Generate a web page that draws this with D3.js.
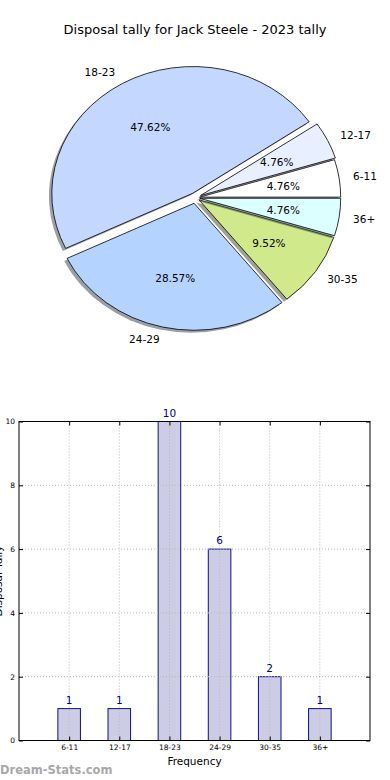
<!DOCTYPE html>
<html>
<head>
<meta charset="utf-8">
<script src="https://cdn.jsdelivr.net/npm/d3@7"></script>
<style>
  body { margin: 0; background: #fff; }
  svg { display: block; font-family: "DejaVu Sans", sans-serif; }
  .grid line { stroke: #b8b8b8; stroke-dasharray: 1,2; }
</style>
</head>
<body>
<div id="chart"></div>
<script>
/* DATA */
const ageGroups = ["6-11", "12-17", "18-23", "24-29", "30-35", "36+"];
const disposalCounts = [1, 1, 10, 6, 2, 1];
const sliceColours = ["#ffffff", "#e8f0ff", "#c4d8ff", "#b4d4ff", "#d0e98a", "#dcffff"];
const explode = [0.03, 0.04, 0.04, 0.045, 0.03, 0.03];
const yTicks = [0, 2, 4, 6, 8, 10];

const width = 390, height = 780;

const svg = d3.select("#chart").append("svg")
  .attr("width", width)
  .attr("height", height);

// title
svg.append("text")
  .attr("x", 195)
  .attr("y", 34)
  .attr("text-anchor", "middle")
  .attr("font-size", 13)
  .text("Disposal tally for Jack Steele - 2023 tally");

/* PIE (matplotlib style: elliptical, counter-clockwise from 3 o'clock) */
const pieC = { x: 195.5, y: 197.7, rx: 141, ry: 127 };
const total = d3.sum(disposalCounts);

const pie = d3.pie()
  .sort(null)
  .startAngle(Math.PI / 2)
  .endAngle(Math.PI / 2 - 2 * Math.PI);

const arcs = pie(disposalCounts);
const arc = d3.arc().innerRadius(0).outerRadius(1);

const pieG = svg.append("g")
  .attr("transform", `translate(${pieC.x},${pieC.y}) scale(${pieC.rx},${pieC.ry})`);

arcs.forEach((d, i) => {
  const mid = (d.startAngle + d.endAngle) / 2;
  const ox = explode[i] * Math.sin(mid), oy = -explode[i] * Math.cos(mid);
  const base = d3.rgb(sliceColours[i]);
  const shade = d3.rgb(base.r * 0.3, base.g * 0.3, base.b * 0.3);

  // shadow drawn just before its wedge
  pieG.append("path")
    .attr("d", arc(d))
    .attr("transform", `translate(${ox - 0.02},${oy + 0.02})`)
    .attr("fill", shade)
    .attr("fill-opacity", 0.5)
    .attr("stroke", "none");

  pieG.append("path")
    .attr("d", arc(d))
    .attr("transform", `translate(${ox},${oy})`)
    .attr("fill", sliceColours[i])
    .attr("stroke", "#000")
    .attr("stroke-width", 0.8)
    .attr("vector-effect", "non-scaling-stroke");
});

// labels and percentages
arcs.forEach((d, i) => {
  const mid = (d.startAngle + d.endAngle) / 2;
  const s = Math.sin(mid), c = Math.cos(mid);
  const lr = 1.1 + explode[i], pr = 0.6 + explode[i];

  svg.append("text")
    .attr("x", pieC.x + lr * s * pieC.rx)
    .attr("y", pieC.y - lr * c * pieC.ry)
    .attr("text-anchor", s > 0 ? "start" : "end")
    .attr("dominant-baseline", "central")
    .attr("font-size", 10.5)
    .text(ageGroups[i]);

  svg.append("text")
    .attr("x", pieC.x + pr * s * pieC.rx)
    .attr("y", pieC.y - pr * c * pieC.ry)
    .attr("text-anchor", "middle")
    .attr("dominant-baseline", "central")
    .attr("font-size", 10.5)
    .text(d3.format(".2f")(d.value / total * 100) + "%");
});

/* BAR CHART */
const plot = { left: 19, right: 370, top: 421.5, bottom: 740.5 };

const xScale = d3.scaleLinear()
  .domain([0, 7])
  .range([plot.left, plot.right]);

const yScale = d3.scaleLinear()
  .domain([0, 10])
  .range([plot.bottom, plot.top]);

const barW = xScale(0.45) - xScale(0);
const positions = ageGroups.map((g, i) => i + 1);

// bars
svg.append("g")
  .selectAll("rect")
  .data(disposalCounts)
  .join("rect")
  .attr("x", (d, i) => xScale(positions[i]) - barW / 2)
  .attr("y", d => yScale(d))
  .attr("width", barW)
  .attr("height", d => yScale(0) - yScale(d))
  .attr("fill", "#ccccE4")
  .attr("stroke", "#10108c")
  .attr("stroke-width", 1);

// grid (on top of bars)
const grid = svg.append("g").attr("class", "grid");
grid.selectAll(".gx")
  .data(positions)
  .join("line")
  .attr("x1", d => xScale(d)).attr("x2", d => xScale(d))
  .attr("y1", plot.top).attr("y2", plot.bottom);
grid.selectAll(".gy")
  .data(yTicks)
  .join("line")
  .attr("x1", plot.left).attr("x2", plot.right)
  .attr("y1", d => yScale(d)).attr("y2", d => yScale(d));

// value labels
svg.append("g")
  .selectAll("text")
  .data(disposalCounts)
  .join("text")
  .attr("x", (d, i) => xScale(positions[i]))
  .attr("y", d => yScale(d) - 5)
  .attr("text-anchor", "middle")
  .attr("font-size", 10.5)
  .attr("fill", "#00008b")
  .text(d => d);

// axes, ticks pointing inwards
const yAxis = d3.axisLeft(yScale).tickValues(yTicks).tickSizeInner(-4).tickSizeOuter(0).tickPadding(4);
const xAxis = d3.axisBottom(xScale).tickValues(positions)
  .tickFormat(d => ageGroups[d - 1]).tickSizeInner(-4).tickSizeOuter(0).tickPadding(4);

svg.append("g")
  .attr("transform", `translate(${plot.left},0)`)
  .call(yAxis)
  .call(g => g.select(".domain").remove())
  .call(g => g.selectAll("text").attr("font-size", 7.5).attr("font-family", "DejaVu Sans"));

svg.append("g")
  .attr("transform", `translate(0,${plot.bottom})`)
  .call(xAxis)
  .call(g => g.select(".domain").remove())
  .call(g => g.selectAll("text").attr("font-size", 7.5).attr("font-family", "DejaVu Sans"));

svg.append("g")
  .attr("transform", `translate(${plot.right},0)`)
  .call(d3.axisRight(yScale).tickValues(yTicks).tickSizeInner(-4).tickSizeOuter(0).tickFormat(""))
  .call(g => g.select(".domain").remove());

svg.append("g")
  .attr("transform", `translate(0,${plot.top})`)
  .call(d3.axisTop(xScale).tickValues(positions).tickSizeInner(-4).tickSizeOuter(0).tickFormat(""))
  .call(g => g.select(".domain").remove());

// frame
svg.append("rect")
  .attr("x", plot.left)
  .attr("y", plot.top)
  .attr("width", plot.right - plot.left)
  .attr("height", plot.bottom - plot.top)
  .attr("fill", "none")
  .attr("stroke", "#000")
  .attr("stroke-width", 1);

// axis titles
svg.append("text")
  .attr("x", (plot.left + plot.right) / 2)
  .attr("y", 765)
  .attr("text-anchor", "middle")
  .attr("font-size", 10.5)
  .text("Frequency");

// y title sits mostly past the left edge, as in the source image
svg.append("text")
  .attr("transform", `translate(1.5,${(plot.top + plot.bottom) / 2}) rotate(-90)`)
  .attr("text-anchor", "middle")
  .attr("font-size", 10.5)
  .text("Disposal Tally");

// watermark
svg.append("text")
  .attr("x", 0)
  .attr("y", 774)
  .attr("font-size", 11.5)
  .attr("fill", "#a8a8a8")
  .attr("font-weight", "bold")
  .text("Dream-Stats.com");
</script>
</body>
</html>
